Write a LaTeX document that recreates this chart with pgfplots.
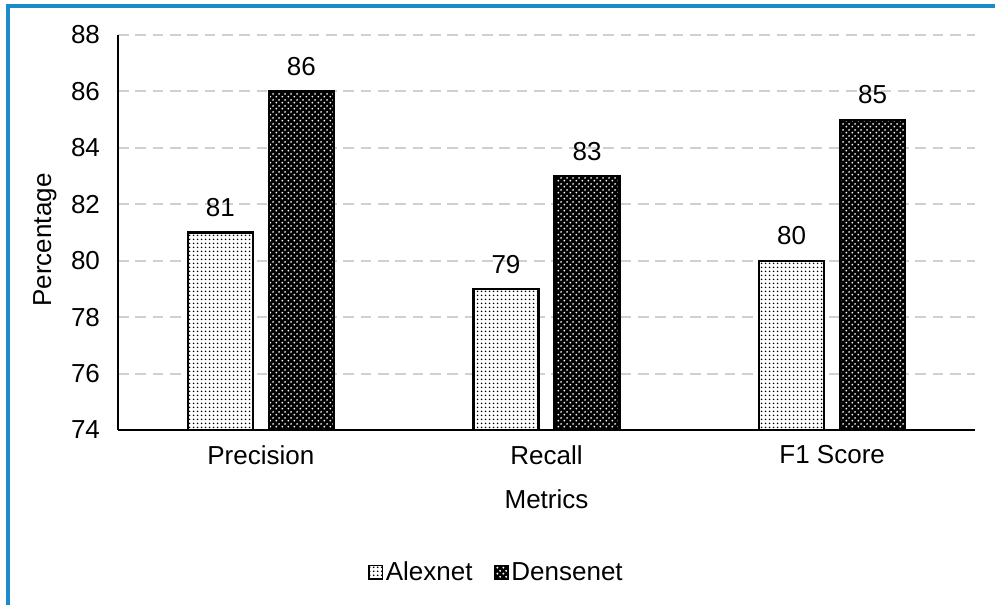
\documentclass[border=0pt]{standalone}
\usepackage{fontspec}
\setmainfont{Liberation Sans}
\usepackage{pgfplots}
\pgfplotsset{compat=1.18}
\usetikzlibrary{patterns}

\definecolor{framecol}{RGB}{28,139,199}
\definecolor{gridcol}{RGB}{208,208,208}

% fine dense dots for the light bars
\pgfdeclarepatternformonly{finedots}{\pgfpointorigin}{\pgfpoint{3pt}{3pt}}{\pgfpoint{3pt}{3pt}}{
  \pgfpathcircle{\pgfpoint{1.5pt}{1.5pt}}{0.8pt}
  \pgfusepath{fill}
}
% staggered dots for the dark bars
\pgfdeclarepatternformonly{staggerdots}{\pgfpointorigin}{\pgfpoint{4.6pt}{4.6pt}}{\pgfpoint{4.6pt}{4.6pt}}{
  \pgfpathcircle{\pgfpoint{1.15pt}{1.15pt}}{0.85pt}
  \pgfpathcircle{\pgfpoint{3.45pt}{3.45pt}}{0.85pt}
  \pgfusepath{fill}
}

\begin{document}
\begin{tikzpicture}[font=\fontsize{19.5}{23}\selectfont]
\useasboundingbox (-88.5pt,-131.25pt) rectangle (657.75pt,322.5pt);
\draw[framecol, line width=2.6pt] (-82.5pt,-140pt) -- (-82.5pt,318pt) -- (665pt,318pt);
\begin{axis}[
  at={(0,0)}, anchor=south west,
  scale only axis,
  width=642.75pt, height=296.25pt,
  ybar,
  bar width=48.75pt,
  xmin=-0.5, xmax=2.5,
  ymin=74, ymax=88,
  ytick={74,76,...,88},
  xtick=data,
  xticklabels={Precision,Recall,F1 Score},
  major tick length=0pt,
  axis x line*=bottom,
  axis y line*=left,
  axis line style={line width=1.2pt, black, -},
  ymajorgrids,
  grid style={gridcol, line width=1.5pt, dash pattern=on 8pt off 5pt},
  /pgf/number format/assume math mode=true,
  yticklabel style={xshift=-10pt},
  xticklabel style={yshift=-8pt},
  xlabel={Metrics},
  ylabel={Percentage},
  every axis x label/.style={at={(axis description cs:0.5,-0.175)}, anchor=center},
  every axis y label/.style={at={(axis description cs:-0.0852,0.481)}, rotate=90, anchor=center},
  nodes near coords,
  every node near coord/.append style={yshift=7.5pt, black},
  legend columns=2,
  legend style={at={(axis description cs:0.442,-0.36)}, anchor=center, draw=none,
    /tikz/every even column/.append style={column sep=14pt}},
  legend image code/.code={\draw[#1, line width=1.2pt] (0pt,-5pt) rectangle (10pt,5pt);},
]
\addplot[bar shift=-30.4pt, draw=black, line width=1.6pt, fill=white,
  postaction={pattern=finedots, pattern color=black}]
  coordinates {(0,81) (1,79) (2,80)};
\addplot[bar shift=30.4pt, draw=black, line width=1.6pt, fill=black,
  postaction={pattern=staggerdots, pattern color=white}]
  coordinates {(0,86) (1,83) (2,85)};
\legend{Alexnet,Densenet}
\end{axis}
\end{tikzpicture}
\end{document}
